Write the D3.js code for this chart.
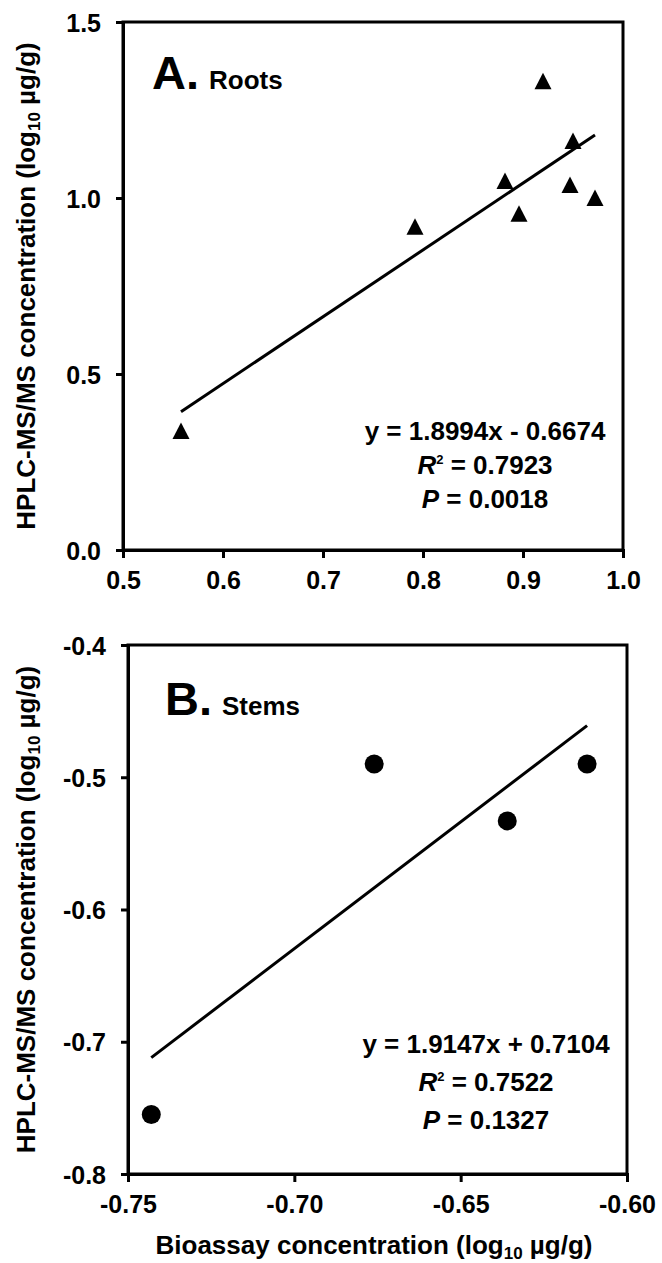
<!DOCTYPE html>
<html>
<head>
<meta charset="utf-8">
<script src="https://cdn.jsdelivr.net/npm/d3@7"></script>
<style>
  html, body { margin: 0; padding: 0; background: #fff; }
  svg { display: block; }
  text { font-family: "Liberation Sans", Arial, sans-serif; font-weight: bold; fill: #000; }
</style>
</head>
<body>
<svg id="chart" width="662" height="1263"></svg>
<script>
// ---------- Data ----------
// Panel A: Roots
const rootsX = [0.558, 0.792, 0.882, 0.896, 0.920, 0.947, 0.950, 0.972];
const rootsY = [0.338, 0.918, 1.048, 0.955, 1.332, 1.037, 1.162, 1.000];
const rootsTrendX = [0.558, 0.972];
const rootsTrendY = [0.393, 1.179];
const rootsXTicks = [0.5, 0.6, 0.7, 0.8, 0.9, 1.0];
const rootsXTickLabels = ["0.5", "0.6", "0.7", "0.8", "0.9", "1.0"];
const rootsYTicks = [0.0, 0.5, 1.0, 1.5];
const rootsYTickLabels = ["0.0", "0.5", "1.0", "1.5"];
const rootsStats = ["y = 1.8994x - 0.6674", "0.7923", "0.0018"];

// Panel B: Stems
const stemsX = [-0.743, -0.676, -0.636, -0.612];
const stemsY = [-0.755, -0.490, -0.533, -0.490];
const stemsTrendX = [-0.743, -0.612];
const stemsTrendY = [-0.712, -0.461];
const stemsXTicks = [-0.75, -0.70, -0.65, -0.60];
const stemsXTickLabels = ["-0.75", "-0.70", "-0.65", "-0.60"];
const stemsYTicks = [-0.8, -0.7, -0.6, -0.5, -0.4];
const stemsYTickLabels = ["-0.8", "-0.7", "-0.6", "-0.5", "-0.4"];
const stemsStats = ["y = 1.9147x + 0.7104", "0.7522", "0.1327"];

const yTitle = ["HPLC-MS/MS concentration (log", "10", " µg/g)"];
const xTitle = ["Bioassay concentration (log", "10", " µg/g)"];

// ---------- Drawing ----------
const svg = d3.select("#chart");

function panel(cfg) {
  const g = svg.append("g");
  const x = d3.scaleLinear().domain(cfg.xDomain).range([cfg.left, cfg.right]);
  const y = d3.scaleLinear().domain(cfg.yDomain).range([cfg.bottom, cfg.top]);

  // frame
  g.append("rect")
    .attr("x", cfg.left).attr("y", cfg.top)
    .attr("width", cfg.right - cfg.left).attr("height", cfg.bottom - cfg.top)
    .attr("fill", "none").attr("stroke", "#000").attr("stroke-width", 3);

  // axes
  const xAxis = d3.axisBottom(x).tickValues(cfg.xTicks)
    .tickFormat((d, i) => cfg.xTickLabels[i]).tickSize(8).tickPadding(13);
  const yAxis = d3.axisLeft(y).tickValues(cfg.yTicks)
    .tickFormat((d, i) => cfg.yTickLabels[i]).tickSize(7).tickPadding(15);

  const gx = g.append("g").attr("transform", `translate(0,${cfg.bottom})`).call(xAxis);
  const gy = g.append("g").attr("transform", `translate(${cfg.left},0)`).call(yAxis);
  [gx, gy].forEach(a => {
    a.select(".domain").attr("stroke", "#000").attr("stroke-width", 3);
    a.selectAll(".tick line").attr("stroke", "#000").attr("stroke-width", 3);
    a.selectAll(".tick text")
      .attr("font-family", '"Liberation Sans", Arial, sans-serif')
      .attr("font-weight", "bold").attr("font-size", 25).attr("fill", "#000");
  });
  gx.selectAll(".tick text").attr("dy", "0.71em");
  gy.selectAll(".tick text").attr("dy", "0.36em");

  // trendline
  g.append("path")
    .datum(cfg.trendX.map((d, i) => [d, cfg.trendY[i]]))
    .attr("d", d3.line().x(d => x(d[0])).y(d => y(d[1])))
    .attr("fill", "none").attr("stroke", "#000").attr("stroke-width", 3);

  // markers
  const pts = cfg.px.map((d, i) => [d, cfg.py[i]]);
  if (cfg.marker === "triangle") {
    g.selectAll("path.pt").data(pts).join("path").attr("class", "pt")
      .attr("d", d => {
        const cx = x(d[0]), cy = y(d[1]);
        return `M${cx},${cy - 8.5}L${cx + 8.5},${cy + 8}L${cx - 8.5},${cy + 8}Z`;
      })
      .attr("fill", "#000");
  } else {
    g.selectAll("circle.pt").data(pts).join("circle").attr("class", "pt")
      .attr("cx", d => x(d[0])).attr("cy", d => y(d[1])).attr("r", 9.5)
      .attr("fill", "#000");
  }

  // panel label
  const lab = g.append("text").attr("x", cfg.labelX).attr("y", cfg.labelY);
  lab.append("tspan").attr("font-size", 47).text(cfg.letter);
  lab.append("tspan").attr("font-size", 26).attr("dx", 10).text(cfg.name);

  // stats
  const sx = cfg.statsX;
  g.append("text").attr("x", sx).attr("y", cfg.statsY[0]).attr("text-anchor", "middle")
    .attr("font-size", 26).text(cfg.stats[0]);
  const r2 = g.append("text").attr("x", sx).attr("y", cfg.statsY[1]).attr("text-anchor", "middle")
    .attr("font-size", 26);
  r2.append("tspan").attr("font-style", "italic").text("R");
  r2.append("tspan").attr("font-size", 13).attr("dy", -10).text("2");
  r2.append("tspan").attr("dy", 10).text(" = " + cfg.stats[1]);
  const p = g.append("text").attr("x", sx).attr("y", cfg.statsY[2]).attr("text-anchor", "middle")
    .attr("font-size", 26);
  p.append("tspan").attr("font-style", "italic").text("P");
  p.append("tspan").text(" = " + cfg.stats[2]);

  // y title
  const yt = g.append("text")
    .attr("transform", `translate(35,${(cfg.top + cfg.bottom) / 2}) rotate(-90)`)
    .attr("text-anchor", "middle").attr("font-size", 26);
  yt.append("tspan").text(yTitle[0]);
  yt.append("tspan").attr("font-size", 17).attr("dy", 5).text(yTitle[1]);
  yt.append("tspan").attr("dy", -5).text(yTitle[2]);

  return { x, y };
}

panel({
  left: 123, right: 623, top: 22, bottom: 550,
  xDomain: [0.5, 1.0], yDomain: [0, 1.5],
  xTicks: rootsXTicks, xTickLabels: rootsXTickLabels,
  yTicks: rootsYTicks, yTickLabels: rootsYTickLabels,
  px: rootsX, py: rootsY, trendX: rootsTrendX, trendY: rootsTrendY,
  marker: "triangle", letter: "A.", name: "Roots", labelX: 152, labelY: 89,
  stats: rootsStats, statsX: 485, statsY: [440, 474, 508]
});

panel({
  left: 128, right: 627, top: 645, bottom: 1174,
  xDomain: [-0.75, -0.60], yDomain: [-0.8, -0.4],
  xTicks: stemsXTicks, xTickLabels: stemsXTickLabels,
  yTicks: stemsYTicks, yTickLabels: stemsYTickLabels,
  px: stemsX, py: stemsY, trendX: stemsTrendX, trendY: stemsTrendY,
  marker: "circle", letter: "B.", name: "Stems", labelX: 165, labelY: 715,
  stats: stemsStats, statsX: 486, statsY: [1053, 1091, 1129]
});

// x title (bottom)
const xt = svg.append("text").attr("x", 374).attr("y", 1254)
  .attr("text-anchor", "middle").attr("font-size", 26);
xt.append("tspan").text(xTitle[0]);
xt.append("tspan").attr("font-size", 17).attr("dy", 5).text(xTitle[1]);
xt.append("tspan").attr("dy", -5).text(xTitle[2]);
</script>
</body>
</html>
